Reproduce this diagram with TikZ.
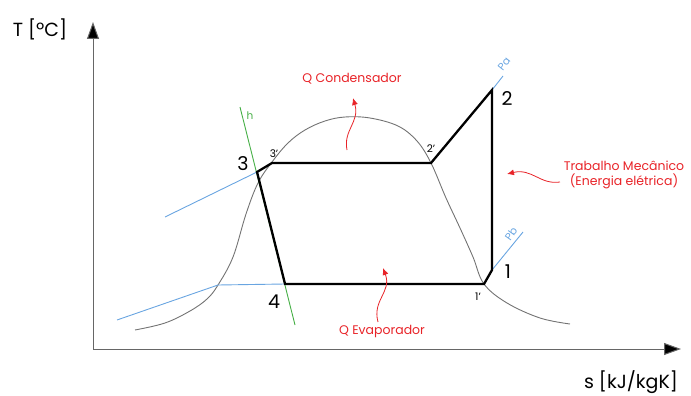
\documentclass[tikz,border=0pt]{standalone}
\usepackage{fontspec}
\setmainfont{Poppins}
\usetikzlibrary{arrows.meta}
\definecolor{isoblue}{RGB}{105,165,225}
\definecolor{hgreen}{RGB}{70,175,70}
\definecolor{qred}{RGB}{232,35,40}

\begin{document}
\begin{tikzpicture}[x=1pt,y=-1pt,
  axis/.style={draw=black!60,line width=1pt,-{Triangle[length=17pt,width=12pt,fill=black]}},
  cyc/.style={line width=2.3pt,line join=miter},
  dome/.style={draw=black!55,line width=0.9pt},
  iso/.style={draw=isoblue,line width=0.9pt},
  ent/.style={draw=hgreen,line width=0.9pt},
  heat/.style={draw=qred,line width=0.8pt,-{Latex[length=7pt,width=6pt]}},
  big/.style={font=\fontsize{19}{21}\selectfont,inner sep=1pt},
  small/.style={font=\fontsize{10.5}{12}\selectfont,inner sep=0.5pt},
  note/.style={text=qred,font=\fontsize{12.5}{15}\selectfont,align=center,inner sep=1pt}]
\useasboundingbox (0,0) rectangle (691,396);
% eixos
\coordinate (o) at (93,349);
\draw[axis] (o) -- (93,22);
\draw[axis] (o) -- (681,349);
\node[font=\fontsize{19}{21}\selectfont] (tlab) at (40,29) {T [ºC]};
\node[font=\fontsize{19}{21}\selectfont] (slab) at (631,382) {s [kJ/kgK]};
% pontos do ciclo
\coordinate (p1)  at (492,270);
\coordinate (p1l) at (484,284);
\coordinate (p2)  at (492,90);
\coordinate (p2l) at (431,163);
\coordinate (p3l) at (272,163);
\coordinate (p3)  at (257,172);
\coordinate (p4)  at (285,284);
% curva de saturacao
\draw[dome] plot[smooth,tension=0.6] coordinates {(135,330) (165,323) (190,311) (207,299) (218,285)
  (233,257) (246,214) (258,183) (272,162) (288,143) (305,130) (325,121) (345,117) (370,118)
  (398,126) (417,141) (431,163) (446,198) (460,228) (473,257) (484,284) (507,303) (540,318) (570,324)};
% isobaras e isentalpica
\coordinate (a1) at (165,217);
\coordinate (b1) at (117,320);
\coordinate (b2) at (218,285);
\coordinate (pa) at (503,76);
\coordinate (pb) at (523,232);
\coordinate (h1) at (240,107);
\coordinate (h2) at (295,325);
\draw[iso] (a1) -- (p3);
\draw[iso] (b1) -- (b2) -- (p4);
\draw[iso] (p2) -- (pa);
\draw[iso] (p1) -- (pb);
\draw[ent] (h1) -- (h2);
\node[text=isoblue,small,rotate=52] (lpa) at (504,64) {Pa};
\node[text=isoblue,small,rotate=55] (lpb) at (511,234) {Pb};
\node[text=hgreen,small] (lh) at (250,116) {h};
% ciclo
\draw[cyc] (p4) -- (p1l) -- (p1) -- (p2) -- (p2l) -- (p3l) -- (p3) -- cycle;
\node[big] (l1) at (508,272) {1};
\node[big] (l2) at (507,99) {2};
\node[big] (l3) at (243,164) {3};
\node[big] (l4) at (274,302) {4};
\node[small] (l1l) at (478,297) {1'};
\node[small] (l2l) at (431,149) {2'};
\node[small] (l3l) at (274,154) {3'};
% calor e trabalho
\node[note] (qc) at (352,79) {Q Condensador};
\node[note] (tm) at (624,175) {Trabalho Mecânico\\(Energia elétrica)};
\node[note] (qe) at (382,331) {Q Evaporador};
\coordinate (qc0) at (347,150);
\coordinate (qc1) at (353,98);
\coordinate (tm0) at (560,182);
\coordinate (tm1) at (507,174);
\coordinate (qe0) at (378,322);
\coordinate (qe1) at (383,268);
\draw[heat] (qc0) .. controls (343,130) and (360,122) .. (qc1);
\draw[heat] (tm0) .. controls (540,185) and (532,168) .. (tm1);
\draw[heat] (qe0) .. controls (372,300) and (392,292) .. (qe1);
\end{tikzpicture}
\end{document}
